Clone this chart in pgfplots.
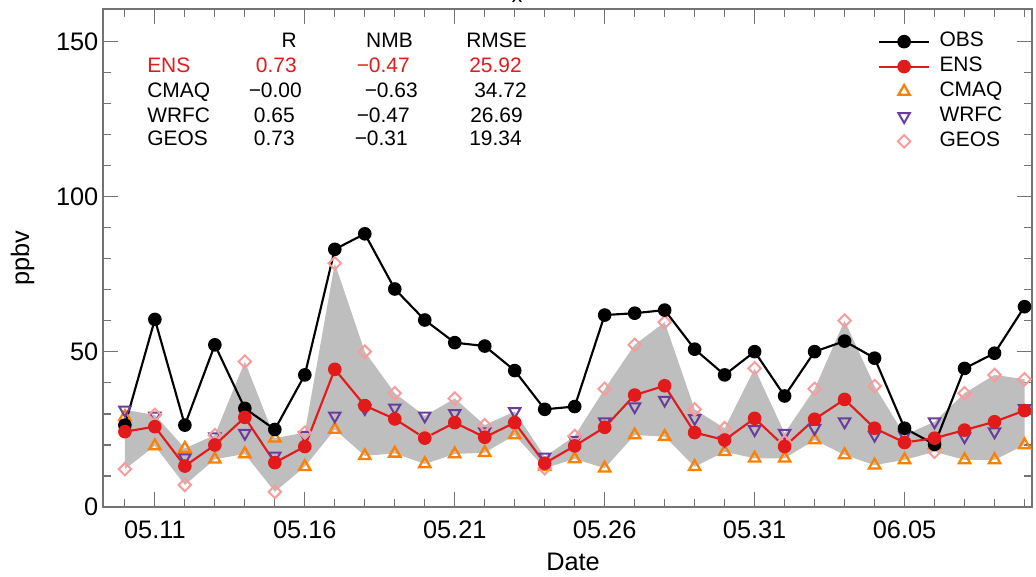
\documentclass[border=0pt]{standalone}
\usepackage{pgfplots}
\pgfplotsset{compat=1.18}
\usepackage{pgfplotstable}
\usepgfplotslibrary{fillbetween}
\usepackage{fontspec}
\setmainfont{Liberation Sans}
\definecolor{ensred}{RGB}{227,26,28}
\definecolor{cmaqorange}{RGB}{255,127,0}
\definecolor{wrfcpurple}{RGB}{106,61,154}
\definecolor{geospink}{RGB}{250,155,155}
\definecolor{bandgray}{RGB}{190,190,190}

\pgfplotstableread{
day obs ens cmaq wrfc geos upper lower
0 26.4 24.3 29.1 31.3 12.2 31.3 12.2
1 60.5 25.9 19.7 29.4 29.7 29.7 19.7
2 26.4 13.2 18.9 15.9 7.1 18.9 7.1
3 52.3 20.0 15.4 22.7 23.2 23.2 15.4
4 31.8 28.9 17.1 23.8 46.9 46.9 17.1
5 25.0 14.3 22.2 16.5 4.9 22.2 4.9
6 42.6 19.5 13.0 23.2 24.0 24.0 13.0
7 83.1 44.4 25.0 29.4 78.6 78.6 25.0
8 88.1 32.7 16.5 31.8 50.1 50.1 16.5
9 70.3 28.4 17.3 32.0 36.7 36.7 17.3
10 60.3 22.2 13.9 29.4 23.0 29.4 13.9
11 53.0 27.2 17.1 30.2 35.0 35.0 17.1
12 51.9 22.5 17.5 24.3 26.4 26.4 17.5
13 44.0 27.2 23.2 30.8 27.0 30.8 23.2
14 31.5 14.1 13.0 16.2 12.5 16.2 12.5
15 32.4 19.7 15.5 21.6 22.9 22.9 15.5
16 61.9 25.7 12.5 27.5 38.1 38.1 12.5
17 62.5 36.1 23.2 32.4 52.3 52.3 23.2
18 63.5 39.1 22.7 34.5 59.6 59.6 22.7
19 50.9 24.0 13.0 28.6 31.5 31.5 13.0
20 42.6 21.6 17.8 21.6 25.4 25.4 17.8
21 50.1 28.6 15.7 25.0 44.7 44.7 15.7
22 35.8 19.5 15.7 23.8 21.0 23.8 15.7
23 50.1 28.3 21.6 25.4 38.1 38.1 21.6
24 53.5 34.7 16.8 27.5 60.1 60.1 16.8
25 48.0 25.4 13.5 23.2 39.0 39.0 13.5
26 25.4 20.8 15.2 23.2 21.0 23.2 15.2
27 20.2 22.2 20.0 27.5 17.8 27.5 17.8
28 44.7 24.8 15.2 22.7 36.7 36.7 15.2
29 49.6 27.5 15.2 24.3 42.6 42.6 15.2
30 64.6 31.1 20.0 31.8 41.2 41.2 20.0
}\data

\begin{document}
\begin{tikzpicture}
\begin{axis}[
  at={(77.25pt,51.75pt)}, anchor=south west,
  width=696.75pt, height=373.5pt, scale only axis,
  xmin=-0.73, xmax=30.25, ymin=0, ymax=160.6,
  xtick={1,6,11,16,21,26},
  xticklabels={05.11,05.16,05.21,05.26,05.31,06.05},
  minor xtick={0,...,30},
  ytick={0,50,100,150}, minor y tick num=4,
  tick pos=both, tick align=inside,
  major tick length=11pt, minor tick length=6pt,
  axis line style={black!55, line width=1pt},
  every tick/.style={black!55, line width=0.8pt},
  tick label style={font=\fontsize{19}{22}\selectfont},
  xticklabel style={yshift=-7pt},
  /pgf/number format/assume math mode=true,
  xlabel={Date}, ylabel={ppbv},
  every axis x label/.style={at={(axis description cs:0.506,-0.111)}, anchor=center, font=\fontsize{19}{22}\selectfont},
  every axis y label/.style={at={(axis description cs:-0.0867,0.5)}, rotate=90, anchor=center, font=\fontsize{19}{22}\selectfont},
  legend style={at={(axis description cs:0.834,0.960)}, anchor=north west,
    draw=none, fill=none, font=\fontsize{15.7}{18}\selectfont,
    inner sep=0pt, row sep=0pt, column sep=6pt,
    nodes={inner sep=1pt, text height=12.3pt, text depth=4.4pt}},
  legend cell align=left,
  legend image code/.code={\draw[mark repeat=2,mark phase=2,#1] plot coordinates {(0pt,0pt) (18.75pt,0pt) (37.5pt,0pt)};},
]
\addlegendimage{black, line width=1.6pt, mark=*, mark size=4.3pt}
\addlegendentry{OBS}
\addlegendimage{ensred, line width=1.6pt, mark=*, mark size=4.3pt}
\addlegendentry{ENS}
\addlegendimage{cmaqorange, line width=0pt, draw opacity=0, mark=triangle, mark size=4.9pt, mark options={line width=1.7pt, draw opacity=1}}
\addlegendentry{CMAQ}
\addlegendimage{wrfcpurple, line width=0pt, draw opacity=0, mark=triangle, mark size=4.9pt, mark options={rotate=180, line width=1.5pt, draw opacity=1}}
\addlegendentry{WRFC}
\addlegendimage{geospink, line width=0pt, draw opacity=0, mark=square, mark size=3.3pt, mark options={rotate=45, line width=1.5pt, draw opacity=1}}
\addlegendentry{GEOS}

\addplot[name path=up, draw=none, forget plot] table[x=day, y=upper] {\data};
\addplot[name path=lo, draw=none, forget plot] table[x=day, y=lower] {\data};
\addplot[fill=bandgray, draw=none, forget plot] fill between[of=up and lo];

\addplot[only marks, cmaqorange, mark=triangle, mark size=4.9pt, mark options={line width=1.7pt}, forget plot] table[x=day, y=cmaq] {\data};
\addplot[only marks, wrfcpurple, mark=triangle, mark size=4.9pt, mark options={rotate=180, line width=1.5pt}, forget plot] table[x=day, y=wrfc] {\data};
\addplot[only marks, geospink, mark=square, mark size=3.3pt, mark options={rotate=45, line width=1.5pt}, forget plot] table[x=day, y=geos] {\data};
\addplot[black, line width=1.6pt, mark=*, mark size=4.3pt, forget plot] table[x=day, y=obs] {\data};
\addplot[ensred, line width=1.6pt, mark=*, mark size=4.3pt, forget plot] table[x=day, y=ens] {\data};
\end{axis}

\begin{scope}[x=0.75pt, y=-0.75pt, yshift=432pt, every node/.style={inner sep=0pt, font=\fontsize{15.7}{18}\selectfont}]
  \node[anchor=base] at (517,3) {x};
  \node[anchor=base east] at (297,47.5) {R};
  \node[anchor=base east] at (413,47.5) {NMB};
  \node[anchor=base east] at (527,47.5) {RMSE};
  \node[anchor=base west, text=ensred] at (147,72.5) {ENS};
  \node[anchor=base east, text=ensred] at (297,72.5) {0.73};
  \node[anchor=base east, text=ensred] at (410,72.5) {−0.47};
  \node[anchor=base east, text=ensred] at (522,72.5) {25.92};
  \node[anchor=base west] at (147,97.5) {CMAQ};
  \node[anchor=base east] at (302,97.5) {−0.00};
  \node[anchor=base east] at (418,97.5) {−0.63};
  \node[anchor=base east] at (527,97.5) {34.72};
  \node[anchor=base west] at (147,122.5) {WRFC};
  \node[anchor=base east] at (295,122.5) {0.65};
  \node[anchor=base east] at (410,122.5) {−0.47};
  \node[anchor=base east] at (523,122.5) {26.69};
  \node[anchor=base west] at (147,146) {GEOS};
  \node[anchor=base east] at (295,146) {0.73};
  \node[anchor=base east] at (408,146) {−0.31};
  \node[anchor=base east] at (522,146) {19.34};
\end{scope}
\pgfresetboundingbox
\useasboundingbox (0,0) rectangle (777pt,432pt);
\end{tikzpicture}
\end{document}
